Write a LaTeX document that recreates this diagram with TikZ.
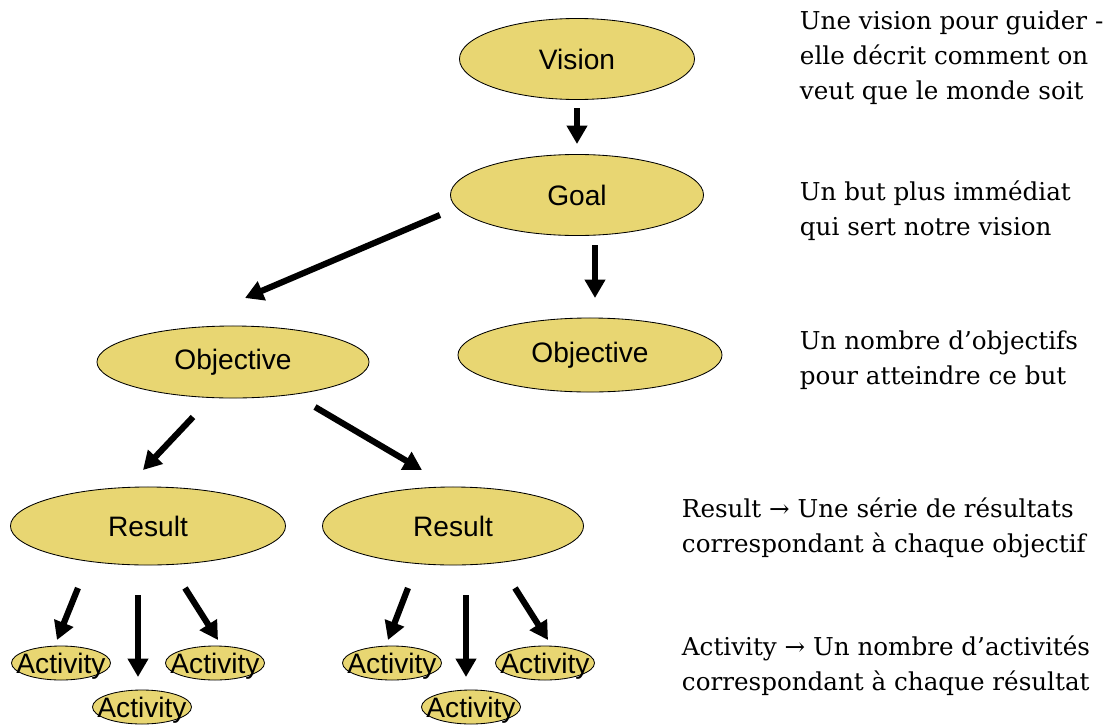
\documentclass[tikz,border=0pt]{standalone}
\usepackage{fontspec}
\setmainfont{DejaVu Serif}
\newfontfamily\bubblefont{Liberation Sans}
\usepackage{xcolor}
\definecolor{goldfill}{RGB}{232, 214, 114}
\usepackage{tikz}
\usetikzlibrary{shapes.geometric, arrows.meta, calc}

\newcommand{\actlabel}{\smash{\makebox[0pt]{\raisebox{-0.36em}{Activity}}}}

\begin{document}
\begin{tikzpicture}[x=0.025cm, y=-0.025cm,
    bubble/.style={ellipse, draw=black, line width=0.6pt, fill=goldfill, inner sep=0pt, font=\bubblefont\fontsize{20}{24}\selectfont},
    actbubble/.style={bubble, minimum width=2.475cm, minimum height=0.85cm},
    arr/.style={-{Triangle[length=13pt, width=14pt]}, line width=4.4pt, black},
    note/.style={anchor=west, align=left, font=\fontsize{17.5}{25}\selectfont}
  ]
    \useasboundingbox (0,0) rectangle (1112,724);

    % tree
    \node[bubble, minimum width=5.875cm, minimum height=2.025cm] (vision) at (577,59) {Vision};
    \node[bubble, minimum width=6.325cm, minimum height=2.025cm] (goal) at (577,195) {Goal};
    \node[bubble, minimum width=6.8cm, minimum height=1.8cm] (obj1) at (233,362) {Objective};
    \node[bubble, minimum width=6.6cm, minimum height=1.85cm] (obj2) at (590,355) {Objective};
    \node[bubble, minimum width=6.875cm, minimum height=1.95cm] (res1) at (148,526) {Result};
    \node[bubble, minimum width=6.525cm, minimum height=1.95cm] (res2) at (453,526) {Result};

    \node[actbubble] (act1a) at (61,663) {\actlabel};
    \node[actbubble] (act1b) at (215,663) {\actlabel};
    \node[actbubble] (act1c) at (142,707) {\actlabel};
    \node[actbubble] (act2a) at (392,663) {\actlabel};
    \node[actbubble] (act2b) at (545,663) {\actlabel};
    \node[actbubble] (act2c) at (471,707) {\actlabel};

    \draw[arr] ($(vision)+(0,49)$) -- ($(goal)+(0,-51)$);
    \draw[arr] ($(goal)+(-137,20)$) -- ($(obj1)+(12,-64)$);
    \draw[arr] ($(goal)+(18,50)$) -- ($(obj2)+(5,-57)$);
    \draw[arr] ($(obj1)+(-40,55)$) -- ($(res1)+(-5,-56)$);
    \draw[arr] ($(obj1)+(82,45)$) -- ($(res2)+(-31,-56)$);
    \draw[arr] ($(res1)+(-70,62)$) -- ($(act1a)+(-4,-23)$);
    \draw[arr] ($(res1)+(-10,69)$) -- ($(act1c)+(-4,-30)$);
    \draw[arr] ($(res1)+(37,62)$) -- ($(act1b)+(3,-23)$);
    \draw[arr] ($(res2)+(-45,62)$) -- ($(act2a)+(-4,-23)$);
    \draw[arr] ($(res2)+(13,69)$) -- ($(act2c)+(-5,-30)$);
    \draw[arr] ($(res2)+(62,62)$) -- ($(act2b)+(3,-23)$);

    % notes
    \node[note] (note1) at (795,58) {Une vision pour guider -\\elle décrit comment on\\veut que le monde soit};
    \node[note] (note2) at (795,211) {Un but plus immédiat\\qui sert notre vision};
    \node[note] (note3) at (795,360) {Un nombre d’objectifs\\pour atteindre ce but};
    \node[note] (note4) at (677,528) {Result → Une série de résultats\\correspondant à chaque objectif};
    \node[note] (note5) at (677,666) {Activity → Un nombre d’activités\\correspondant à chaque résultat};
\end{tikzpicture}
\end{document}
